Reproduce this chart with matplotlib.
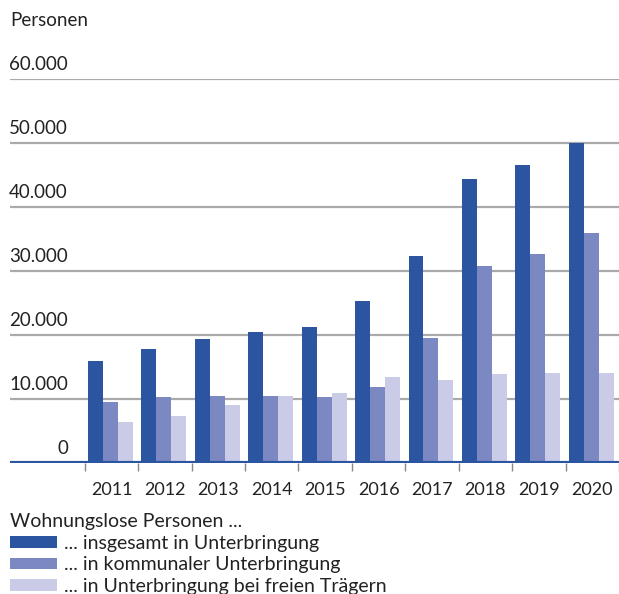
"""Wohnungslose Personen in Unterbringung, 2011-2020."""
import matplotlib
matplotlib.use("Agg")
import matplotlib.pyplot as plt
import matplotlib.transforms as mtransforms
from matplotlib.patches import Patch

plt.rcParams["font.family"] = ["Lato", "DejaVu Sans"]

years = ["2011", "2012", "2013", "2014", "2015", "2016", "2017", "2018", "2019", "2020"]
insgesamt = [15900, 17800, 19300, 20500, 21200, 25300, 32300, 44400, 46600, 50000]
kommunal = [9600, 10300, 10500, 10500, 10300, 11800, 19500, 30800, 32700, 36000]
freie_traeger = [6400, 7300, 9100, 10500, 10900, 13500, 13000, 13900, 14100, 14100]

series_labels = [
    "... insgesamt in Unterbringung",
    "... in kommunaler Unterbringung",
    "... in Unterbringung bei freien Trägern",
]
y_ticks = [0, 10000, 20000, 30000, 40000, 50000, 60000]
y_tick_labels = ["0", "10.000", "20.000", "30.000", "40.000", "50.000", "60.000"]

COLORS = ["#2b55a0", "#7c88c1", "#cacbe6"]
GRID = "#aaaaaa"
TEXT = "#222222"
W, H = 619, 594

fig = plt.figure(figsize=(W / 100, H / 100), dpi=100)
# axes: left edge at x=10px, zero line at y=463px, 60.000 at y=79px
ax = fig.add_axes([10 / W, (H - 463) / H, 1 - 10 / W, (463 - 79) / H])

x = list(range(len(years)))
width = 0.28
for k, values in enumerate([insgesamt, kommunal, freie_traeger]):
    ax.bar([i + (k - 1) * width - 0.02 for i in x], values, width=width,
           color=COLORS[k], zorder=2)

ax.set_xlim(-1.90, 9.50)
ax.set_ylim(0, 60000)

for t in y_ticks[1:]:
    ax.axhline(t, color=GRID, lw=1.6, zorder=1)
ax.axhline(0, color=COLORS[0], lw=3, zorder=3)

trans = mtransforms.blended_transform_factory(ax.transAxes, ax.transData)
for t, lab in zip(y_ticks, y_tick_labels):
    ax.text(58 / (W - 10), t + 1000, lab, transform=trans, ha="right", va="bottom",
            fontsize=13.5, color=TEXT)

ax.set_yticks([])
ax.set_xticks([i - 0.5 for i in range(len(years) + 1)])
ax.set_xticklabels([])
ax.tick_params(axis="x", length=6, width=1, color="#888888", direction="out")
for i, year in enumerate(years):
    ax.text(i, -4200, year, ha="center", va="center", fontsize=13, color=TEXT)

for side in ["top", "right", "left", "bottom"]:
    ax.spines[side].set_visible(False)

fig.text(10 / W, 1 - 20 / H, "Personen", ha="left", va="center", fontsize=13.5, color=TEXT)

# legend title drawn separately so the gap to the rows can be set
fig.text(10 / W, 1 - 521 / H, "Wohnungslose Personen ...", ha="left", va="center",
         fontsize=14, color=TEXT)
handles = [Patch(facecolor=c, edgecolor="none") for c in COLORS]
leg = fig.legend(handles, series_labels,
                 loc="upper left", bbox_to_anchor=(10 / W, 1 - 535 / H),
                 frameon=False, fontsize=14,
                 borderpad=0, borderaxespad=0,
                 handlelength=2.4, handleheight=0.55, handletextpad=0.4,
                 labelspacing=0.22)
for t in leg.get_texts():
    t.set_color(TEXT)

fig.savefig("out.png", dpi=100)
